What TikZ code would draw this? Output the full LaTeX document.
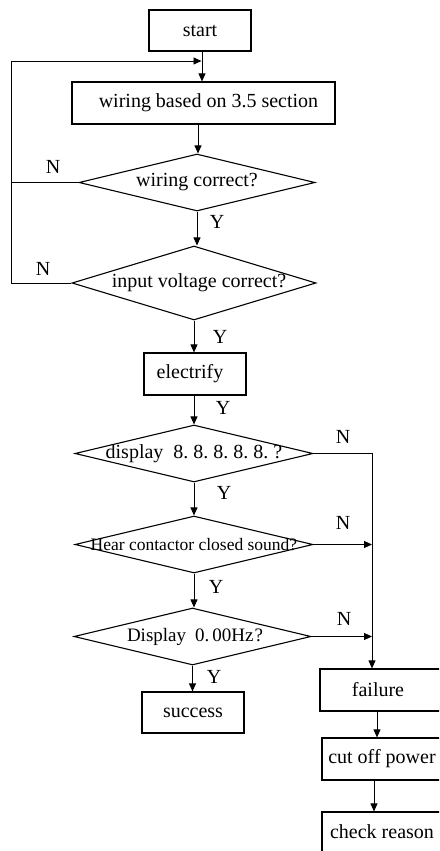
\documentclass[tikz,border=0pt]{standalone}
\usepackage{fontspec}
\setmainfont{Liberation Serif}
\usetikzlibrary{shapes.geometric,arrows.meta}
\begin{document}
\begin{tikzpicture}[x=1pt,y=-1pt,
  font=\fontsize{20}{23}\selectfont,
  box/.style={draw,line width=1.2pt,rectangle,inner sep=0pt},
  dia/.style={draw,line width=1.1pt,diamond,inner sep=0pt},
  arr/.style={line width=0.9pt,-{Triangle[length=8pt,width=7pt]}},
  ln/.style={line width=0.9pt},
  lab/.style={inner sep=0pt}]
\useasboundingbox (0,0) rectangle (439,851);
\clip (0,0) rectangle (439,851);
\node[box,minimum width=102,minimum height=41] (start) at (200,30.5) {start};
\node[box,minimum width=263,minimum height=42] (wire) at (203.5,103) {\hspace{10pt}wiring based on 3.5 section};
\node[dia,minimum width=236,minimum height=57] (d1) at (197,182.5) {\makebox[0pt]{wiring correct?}};
\node[dia,minimum width=244,minimum height=74] (d2) at (194,283) {\makebox[0pt]{\hspace{10pt}input voltage correct?}};
\node[box,minimum width=102,minimum height=42] (elec) at (195,374) {\makebox[0pt]{\hspace{-10pt}electrify}};
\node[dia,minimum width=238,minimum height=57] (d3) at (194,453.5) {\makebox[0pt]{display\ \ 8.\ 8.\ 8.\ 8.\ 8.\ ?}};
\node[dia,minimum width=238,minimum height=57] (d4) at (194,544.5) {\makebox[0pt]{\fontsize{17.5}{20}\selectfont Hear contactor closed sound?}};
\node[dia,minimum width=237,minimum height=57] (d5) at (192.5,636.5) {\makebox[0pt]{\hspace{5pt}\raisebox{-4pt}{\fontsize{19}{22}\selectfont Display\hspace{9pt}0.\hspace{3pt}00Hz\hspace{1pt}?}}};
\node[box,minimum width=102,minimum height=41] (succ) at (193,712.5) {success};
\node[box,minimum width=126,minimum height=42] (fail) at (383,690) {\hspace{-10pt}failure};
\node[box,minimum width=124,minimum height=42] (cut) at (384,759) {\hspace{-4pt}cut off power\hspace{0pt}};
\node[box,minimum width=124,minimum height=58] (check) at (384,841) {};
\node[lab] (checkt) at (382,832) {check reason};
% main chain
\draw[arr] ([xshift=2pt]start.south) -- ([xshift=2pt]start.south |- wire.north);
\draw[arr] ([xshift=-5.5pt]wire.south) -- ([xshift=-5.5pt]wire.south |- d1.north);
\draw[arr] (d1.south) -- (d1.south |- d2.north);
\draw[arr] (d2.south) -- (d2.south |- elec.north);
\draw[arr] ([xshift=-1pt]elec.south) -- ([xshift=-1pt]elec.south |- d3.north);
\draw[arr] (d3.south) -- (d3.south |- d4.north);
\draw[arr] (d4.south) -- (d4.south |- d5.north);
\draw[arr] (d5.south) -- (d5.south |- succ.north);
% loop back
\coordinate (lt) at (11,61);
\coordinate (ltend) at (201.5,61);
\draw[ln] (d1.west) -- (lt |- d1.west);
\draw[arr] (d2.west) -- (lt |- d2.west) -- (lt) -- (ltend);
% failure branch
\coordinate (rx) at (372,453.5);
\draw[arr] (d3.east) -- (rx) -- (rx |- fail.north);
\draw[arr] (d4.east) -- (rx |- d4.east);
\draw[arr] (d5.east) -- (rx |- d5.east);
\draw[arr] ([xshift=-6pt]fail.south) -- ([xshift=-6pt]fail.south |- cut.north);
\draw[arr] ([xshift=-10pt]cut.south) -- ([xshift=-10pt]cut.south |- check.north);
% labels
\node[lab] (n1) at (53,167) {N};
\node[lab] (n2) at (43,269) {N};
\node[lab] (y1) at (217,222) {Y};
\node[lab] (y2) at (220,337) {Y};
\node[lab] (y3) at (223,408) {Y};
\node[lab] (y4) at (224,493) {Y};
\node[lab] (y5) at (216,587) {Y};
\node[lab] (y6) at (214,677) {Y};
\node[lab] (n3) at (343,437) {N};
\node[lab] (n4) at (343,523) {N};
\node[lab] (n5) at (344,619) {N};
\end{tikzpicture}
\end{document}
